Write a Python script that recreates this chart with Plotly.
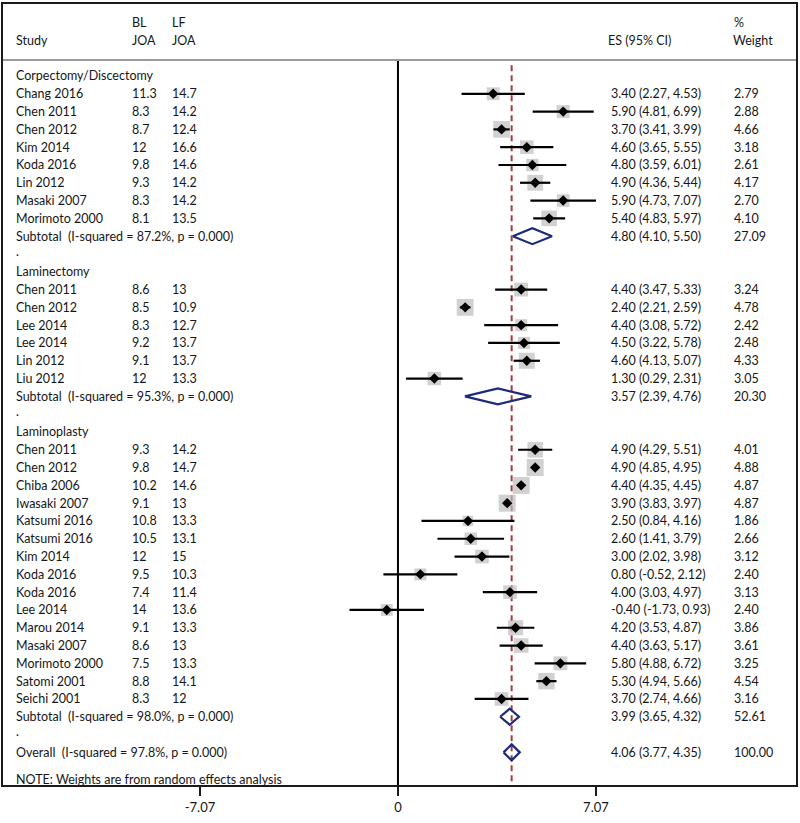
import plotly.graph_objects as go

# ---------------- data ----------------
group_names = ["Corpectomy/Discectomy", "Laminectomy", "Laminoplasty"]

cd_study = ["Chang 2016", "Chen 2011", "Chen 2012", "Kim 2014", "Koda 2016",
            "Lin 2012", "Masaki 2007", "Morimoto 2000"]
cd_bl = [11.3, 8.3, 8.7, 12, 9.8, 9.3, 8.3, 8.1]
cd_lf = [14.7, 14.2, 12.4, 16.6, 14.6, 14.2, 14.2, 13.5]
cd_es = [3.40, 5.90, 3.70, 4.60, 4.80, 4.90, 5.90, 5.40]
cd_lo = [2.27, 4.81, 3.41, 3.65, 3.59, 4.36, 4.73, 4.83]
cd_hi = [4.53, 6.99, 3.99, 5.55, 6.01, 5.44, 7.07, 5.97]
cd_w = [2.79, 2.88, 4.66, 3.18, 2.61, 4.17, 2.70, 4.10]

le_study = ["Chen 2011", "Chen 2012", "Lee 2014", "Lee 2014", "Lin 2012", "Liu 2012"]
le_bl = [8.6, 8.5, 8.3, 9.2, 9.1, 12]
le_lf = [13, 10.9, 12.7, 13.7, 13.7, 13.3]
le_es = [4.40, 2.40, 4.40, 4.50, 4.60, 1.30]
le_lo = [3.47, 2.21, 3.08, 3.22, 4.13, 0.29]
le_hi = [5.33, 2.59, 5.72, 5.78, 5.07, 2.31]
le_w = [3.24, 4.78, 2.42, 2.48, 4.33, 3.05]

lp_study = ["Chen 2011", "Chen 2012", "Chiba 2006", "Iwasaki 2007", "Katsumi 2016",
            "Katsumi 2016", "Kim 2014", "Koda 2016", "Koda 2016", "Lee 2014",
            "Marou 2014", "Masaki 2007", "Morimoto 2000", "Satomi 2001", "Seichi 2001"]
lp_bl = [9.3, 9.8, 10.2, 9.1, 10.8, 10.5, 12, 9.5, 7.4, 14, 9.1, 8.6, 7.5, 8.8, 8.3]
lp_lf = [14.2, 14.7, 14.6, 13, 13.3, 13.1, 15, 10.3, 11.4, 13.6, 13.3, 13, 13.3, 14.1, 12]
lp_es = [4.90, 4.90, 4.40, 3.90, 2.50, 2.60, 3.00, 0.80, 4.00, -0.40, 4.20, 4.40, 5.80, 5.30, 3.70]
lp_lo = [4.29, 4.85, 4.35, 3.83, 0.84, 1.41, 2.02, -0.52, 3.03, -1.73, 3.53, 3.63, 4.88, 4.94, 2.74]
lp_hi = [5.51, 4.95, 4.45, 3.97, 4.16, 3.79, 3.98, 2.12, 4.97, 0.93, 4.87, 5.17, 6.72, 5.66, 4.66]
lp_w = [4.01, 4.88, 4.87, 4.87, 1.86, 2.66, 3.12, 2.40, 3.13, 2.40, 3.86, 3.61, 3.25, 4.54, 3.16]

sub_i2 = [87.2, 95.3, 98.0]
sub_es = [4.80, 3.57, 3.99]
sub_lo = [4.10, 2.39, 3.65]
sub_hi = [5.50, 4.76, 4.32]
sub_w = [27.09, 20.30, 52.61]

overall_i2 = 97.8
overall_es = 4.06
overall_lo = 3.77
overall_hi = 4.35
overall_w = 100.00

tick_vals = [-7.07, 0, 7.07]
tick_text = ["-7.07", "0", "7.07"]

# ---------------- layout constants ----------------
FONT = "Lato"
FS = 12.5
TXT = "#161616"
COL_STUDY, COL_BL, COL_LF, COL_ES, COL_W = -13.71, -9.57, -8.14, 7.55, 11.94
X_RANGE = [-14.14, 14.25]
Y_RANGE = [39.89, -4.1]
HEADER_SEP = -0.9

groups = [
    (cd_study, cd_bl, cd_lf, cd_es, cd_lo, cd_hi, cd_w),
    (le_study, le_bl, le_lf, le_es, le_lo, le_hi, le_w),
    (lp_study, lp_bl, lp_lf, lp_es, lp_lo, lp_hi, lp_w),
]

annotations = []


def txt(x, y, s):
    annotations.append(dict(x=x, y=y, xref="x", yref="y", text=s, showarrow=False,
                            xanchor="left", yanchor="middle",
                            font=dict(family=FONT, size=FS, color=TXT)))


def fmt_ci(e, l, h):
    return f"{e:.2f} ({l:.2f}, {h:.2f})"


# headers
txt(COL_STUDY, -2, "Study")
txt(COL_BL, -3, "BL")
txt(COL_BL, -2, "JOA")
txt(COL_LF, -3, "LF")
txt(COL_LF, -2, "JOA")
txt(COL_ES - 0.13, -2, "ES (95% CI)")
txt(COL_W, -3, "%")
txt(COL_W - 0.05, -2, "Weight")

st_y, st_es, st_lo, st_hi, st_w = [], [], [], [], []
dia_y, dia_es, dia_lo, dia_hi = [], [], [], []

row = 0
for gi, (names, bl, lf, es, lo, hi, w) in enumerate(groups):
    txt(COL_STUDY, row, group_names[gi])
    row += 1
    for k in range(len(names)):
        txt(COL_STUDY, row, names[k])
        txt(COL_BL, row, f"{bl[k]:g}")
        txt(COL_LF, row, f"{lf[k]:g}")
        txt(COL_ES, row, fmt_ci(es[k], lo[k], hi[k]))
        txt(COL_W, row, f"{w[k]:.2f}")
        st_y.append(row); st_es.append(es[k]); st_lo.append(lo[k]); st_hi.append(hi[k]); st_w.append(w[k])
        row += 1
    txt(COL_STUDY, row, f"Subtotal  (I-squared = {sub_i2[gi]:.1f}%, p = 0.000)")
    txt(COL_ES, row, fmt_ci(sub_es[gi], sub_lo[gi], sub_hi[gi]))
    txt(COL_W, row, f"{sub_w[gi]:.2f}")
    dia_y.append(row); dia_es.append(sub_es[gi]); dia_lo.append(sub_lo[gi]); dia_hi.append(sub_hi[gi])
    row += 1
    txt(COL_STUDY, row - 0.15, ".")
    row += 1

txt(COL_STUDY, row, f"Overall  (I-squared = {overall_i2:.1f}%, p = 0.000)")
txt(COL_ES, row, fmt_ci(overall_es, overall_lo, overall_hi))
txt(COL_W, row, f"{overall_w:.2f}")
dia_y.append(row); dia_es.append(overall_es); dia_lo.append(overall_lo); dia_hi.append(overall_hi)
txt(COL_STUDY, row + 1.5, "NOTE: Weights are from random effects analysis")

fig = go.Figure()

# weight boxes (area proportional to weight)
max_w = max(st_w)
fig.add_trace(go.Scatter(
    x=st_es, y=st_y, mode="markers",
    marker=dict(symbol="square", size=[17 * (wv / max_w) ** 0.5 for wv in st_w],
                color="#bdbdbd", line=dict(width=0)),
    hoverinfo="skip", showlegend=False))

# confidence intervals
ci_x, ci_y = [], []
for yv, l, h in zip(st_y, st_lo, st_hi):
    ci_x += [l, h, None]
    ci_y += [yv, yv, None]
fig.add_trace(go.Scatter(x=ci_x, y=ci_y, mode="lines",
                         line=dict(color="black", width=2.2),
                         hoverinfo="skip", showlegend=False))

# point estimates
fig.add_trace(go.Scatter(x=st_es, y=st_y, mode="markers",
                         marker=dict(symbol="diamond", size=8, color="black"),
                         hoverinfo="skip", showlegend=False))

# pooled diamonds
H = 0.45
dx, dy = [], []
for yv, e, l, h in zip(dia_y, dia_es, dia_lo, dia_hi):
    dx += [l, e, h, e, l, None]
    dy += [yv, yv - H, yv, yv + H, yv, None]
fig.add_trace(go.Scatter(x=dx, y=dy, mode="lines",
                         line=dict(color="#1d2a7a", width=2.2),
                         hoverinfo="skip", showlegend=False))

shapes = [
    # null line
    dict(type="line", xref="x", yref="y", x0=0, x1=0, y0=HEADER_SEP, y1=Y_RANGE[0],
         line=dict(color="black", width=2), layer="below"),
    # overall effect line
    dict(type="line", xref="x", yref="y", x0=overall_es, x1=overall_es, y0=-0.6, y1=Y_RANGE[0],
         line=dict(color="#a83a3a", width=2, dash="6px,4px"), layer="below"),
    # header separator
    dict(type="line", xref="paper", yref="y", x0=0, x1=1, y0=HEADER_SEP, y1=HEADER_SEP,
         line=dict(color="#9a9a9a", width=2)),
    # frame
    dict(type="rect", xref="paper", yref="paper", x0=0, x1=1, y0=0, y1=1,
         line=dict(color="#1a1a1a", width=2)),
]

fig.update_layout(
    width=800, height=823,
    margin=dict(l=2, r=3, t=3, b=37),
    paper_bgcolor="white", plot_bgcolor="white",
    showlegend=False,
    shapes=shapes,
    annotations=annotations,
    xaxis=dict(range=X_RANGE, tickvals=tick_vals, ticktext=tick_text,
               ticks="outside", ticklen=9, tickwidth=2, tickcolor="#1a1a1a",
               showgrid=False, zeroline=False, showline=False,
               tickfont=dict(family=FONT, size=13, color=TXT), fixedrange=True),
    yaxis=dict(range=Y_RANGE, visible=False, showgrid=False, zeroline=False, fixedrange=True),
)

fig.write_html("out.html",
               config={"displayModeBar": False},
               post_script="document.body.style.margin='0px';document.body.style.overflow='hidden';")
